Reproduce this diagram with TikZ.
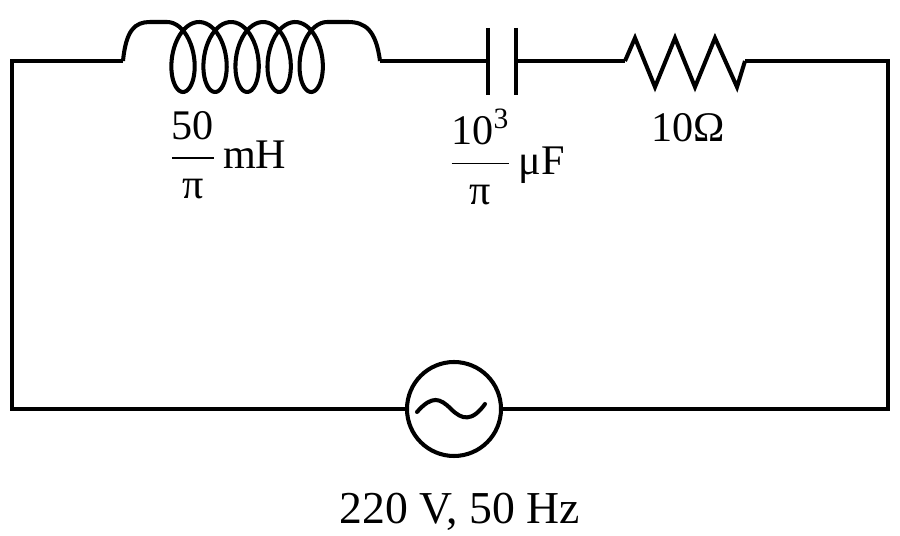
\documentclass[tikz,border=0pt]{standalone}
\usepackage{amsmath}
\usepackage{fontspec}
\setmainfont{Liberation Serif}
\usetikzlibrary{positioning}

\begin{document}
\begin{tikzpicture}[
    x = 0.02cm, y = -0.02cm, % pixel grid
    line width = 2.3pt, % wire style
    line join = miter,
    wire/.style = {line cap = butt},
    lbl/.style = {font = \fontsize{24}{28}\selectfont, inner sep = 0pt}
    ]

    \useasboundingbox (0,0) rectangle (900,536);

    % terminals
    \coordinate (tl) at (12,61);
    \coordinate (tr) at (888,61);
    \coordinate (bl) at (12,409);
    \coordinate (br) at (888,409);
    \coordinate (Lin) at (123,61);
    \coordinate (Lout) at (380,61);
    \coordinate (Cin) at (488,61);
    \coordinate (Cout) at (516,61);
    \coordinate (Rin) at (625,61);
    \coordinate (Rout) at (745,61);
    \node[circle, draw, minimum size = 94*0.02cm, inner sep = 0pt] (src) at (454,409) {};

    % wires
    \draw[wire] (Lin) -- (tl) -- (bl) -- (src.west);
    \draw[wire] (src.east) -- (br) -- (tr) -- (Rout);
    \draw[wire] (Lout) -- (Cin);
    \draw[wire] (Cout) -- (Rin);

    % inductor
    \draw (Lin) .. controls (126,30) and (135,22) .. (150,22)
        .. controls (158,22) and (163,22) .. (167,22)
        -- plot[domain=0:31.416, samples=240, variable=\t]
           ({167 + 5.1*\t + 19*sin(\t r)}, {57 - 35*cos(\t r)})
        .. controls (333,22) and (338,22) .. (348,22)
        .. controls (365,22) and (376,30) .. (Lout);

    % capacitor
    \draw (488,28) -- (488,95);
    \draw (516,28) -- (516,95);

    % resistor
    \draw (Rin) -- (635,38) -- (655,87) -- (675,38) -- (695,87)
        -- (715,38) -- (737,87) -- (Rout);

    % source
    \draw[line cap = round] (417,412) .. controls (432,395) and (440,398) .. (451,409)
        .. controls (462,420) and (472,422) .. (485,404);

    % labels
    \node[lbl] (lL) at (228,155) {$\dfrac{\text{50}}{\text{π}}$\,mH};
    \node[lbl] (lC) at (507,157) {$\dfrac{\text{10}^{\text{3}}}{\text{π}}$\,μF};
    \node[lbl] (lR) at (688,128) {10Ω};
    \node[lbl, font = \fontsize{26}{30}\selectfont] (lS) at (460,512) {220 V, 50 Hz};
\end{tikzpicture}
\end{document}
